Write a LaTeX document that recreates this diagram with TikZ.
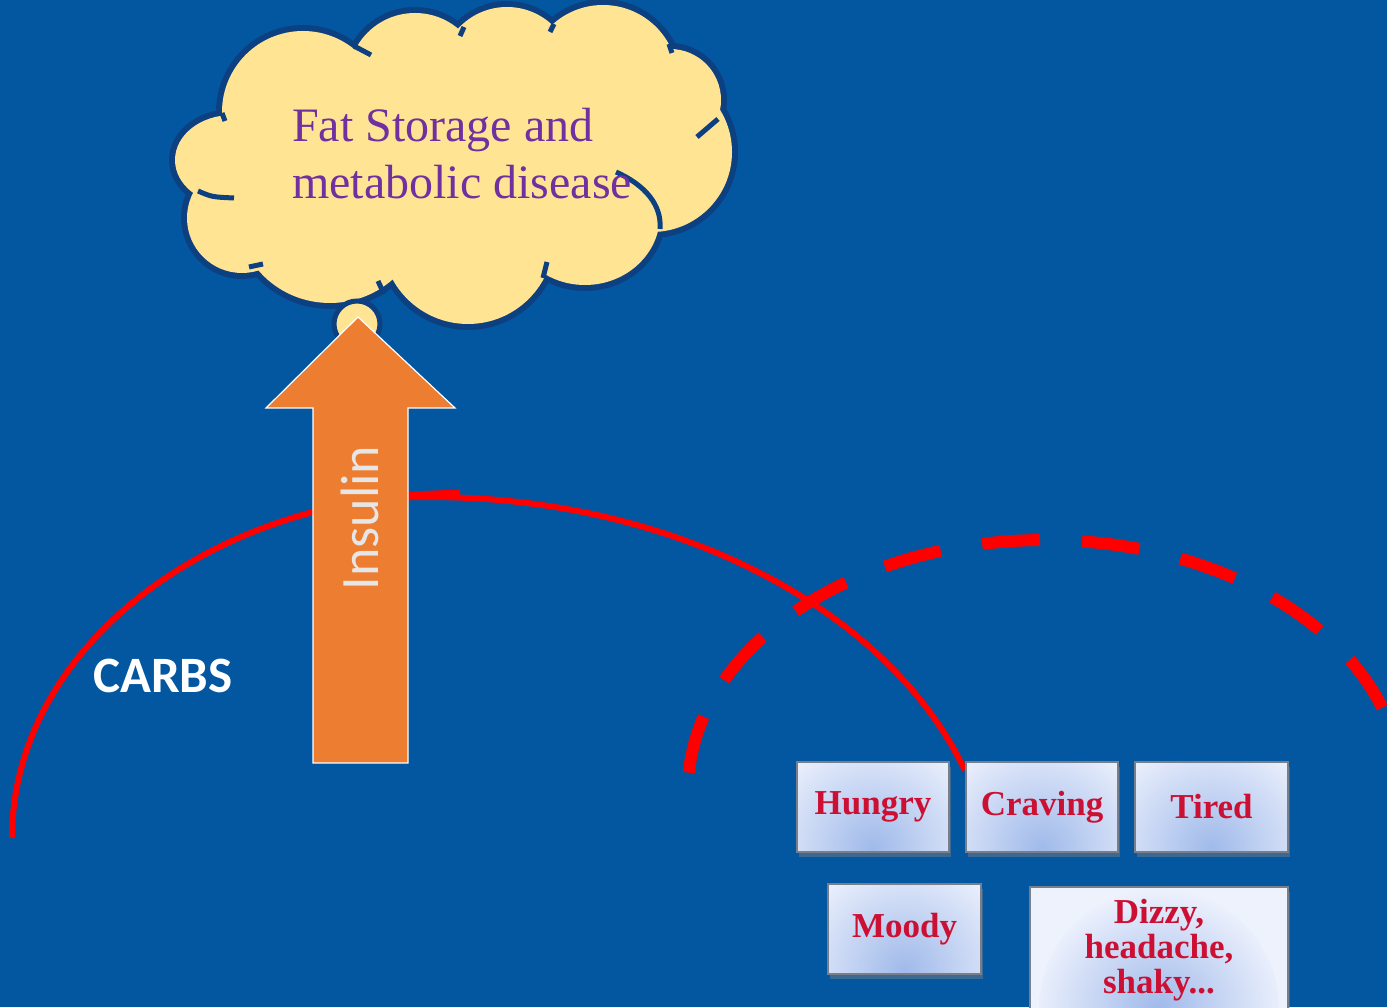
\documentclass[tikz,border=0pt]{standalone}
\usepackage{fontspec}
\setmainfont{Liberation Serif}
\newfontfamily\calibrifont{Carlito}
\usetikzlibrary{shadows}

\definecolor{bgblue}{RGB}{3,87,161}
\definecolor{cloudfill}{RGB}{255,228,148}
\definecolor{cloudline}{RGB}{12,64,128}
\definecolor{fatpurple}{RGB}{112,48,160}
\definecolor{arroworange}{RGB}{237,125,49}
\definecolor{symred}{RGB}{204,16,51}
\definecolor{boxedge}{RGB}{238,242,253}
\definecolor{boxcore}{RGB}{160,186,234}
\definecolor{boxline}{RGB}{120,126,138}
\definecolor{insulingray}{RGB}{230,230,230}

\begin{document}
\begin{tikzpicture}[x=1pt,y=1pt,
  lobeline/.style={draw=cloudline, line width=12pt},
  lobefill/.style={fill=cloudfill},
  seam/.style={draw=cloudline, line width=5pt},
  redline/.style={draw=red, line width=6pt},
  reddash/.style={draw=red, line width=12pt, dash pattern=on 58pt off 42pt},
  symptom/.style={draw=boxline, line width=1.5pt, fill=boxedge,
    minimum height=90pt, inner sep=0pt, align=center, text=symred,
    font=\fontsize{35}{35}\selectfont\bfseries,
    drop shadow={shadow xshift=2pt, shadow yshift=-5pt, opacity=0.45},
    path picture={\shade[inner color=boxcore, outer color=boxedge]
      ([yshift=4pt]path picture bounding box.south) circle (120pt);}}
]
% page and background
\useasboundingbox (0,0) rectangle (1387,1007);
\fill[bgblue] (0,0) rectangle (1387,1007);
\clip (0,0) rectangle (1387,1007);

% thought cloud: outline of every lobe first, then the fills on top
\def\lobes{303/895/81/81, 415/927/67/67, 507/934/66/66, 603/927/75/75,
    670/907/51/51, 652/855/80/80, 232/847/57/45, 242/789/55/55,
    330/792/92/88, 468/769/86/86, 585/792/75/70}
\foreach \cx/\cy/\rx/\ry in \lobes
  \path[lobeline] (\cx,\cy) ellipse [x radius=\rx, y radius=\ry];
\foreach \cx/\cy/\rx/\ry in \lobes
  \path[lobefill] (\cx,\cy) ellipse [x radius=\rx, y radius=\ry];
\fill[cloudfill] (450,850) ellipse [x radius=200, y radius=100];
\coordinate (cloud) at (450,850);

% inner seams where lobes meet
\draw[seam] (222,894) -- (225,886);
\draw[seam] (354,961) .. controls (362,957) .. (371,952);
\draw[seam] (464,980) -- (460,971);
\draw[seam] (554,983) -- (550,975);
\draw[seam] (669,963) -- (672,954);
\draw[seam] (718,888) .. controls (708,879) .. (697,870);
\draw[seam] (198,816) .. controls (212,810) .. (234,809);
\draw[seam] (249,740) -- (263,743);
\draw[seam] (384,713) -- (378,726);
\draw[seam] (543,729) -- (547,745);
\draw[seam] (660,778) .. controls (662,802) and (645,822) .. (616,835);

% cloud text
\node[anchor=base west, align=left, inner sep=0pt, text=fatpurple,
      font=\fontsize{48}{57}\selectfont] (fattext) at (292,808)
  {Fat Storage and\\metabolic disease};

% small bubble under the cloud
\node[circle, draw=cloudline, line width=5pt, fill=cloudfill,
      minimum size=46pt, inner sep=0pt] (bubble) at (357,683) {};

% carbohydrate curve
\draw[redline] (12,169) arc[start angle=180, end angle=90, x radius=448, y radius=345];
\draw[redline] (400.4,509.4) arc[start angle=93, end angle=18.8, x radius=565, y radius=403];

% insulin arrow
\draw[draw=white, line width=1.2pt, fill=arroworange, line join=miter]
  (313,244) -- (313,599) -- (266,599) -- (358,690) -- (455,599)
  -- (408,599) -- (408,244) -- cycle;
\node[rotate=90, text=insulingray, inner sep=0pt,
      font=\calibrifont\fontsize{54}{54}\selectfont] (insulin) at (360,489) {Insulin};

\node[text=white, inner sep=0pt,
      font=\calibrifont\bfseries\fontsize{51}{51}\selectfont] (carbs) at (163,331) {CARBS};

% crash curve
\draw[reddash] (688.9,234.4) arc[start angle=176, end angle=5, x radius=357, y radius=250];

% symptoms
\node[symptom, minimum width=152pt] (hungry) at (873,200) {Hungry};
\node[symptom, minimum width=152pt] (craving) at (1042,200) {Craving};
\node[symptom, minimum width=153pt] (tired) at (1211.5,200) {Tired};
\node[symptom, minimum width=153pt] (moody) at (904.5,78) {Moody};
\node[symptom, minimum width=258pt, minimum height=126pt] (dizzy) at (1159,57)
  {Dizzy,\\headache,\\shaky...};
\end{tikzpicture}
\end{document}
